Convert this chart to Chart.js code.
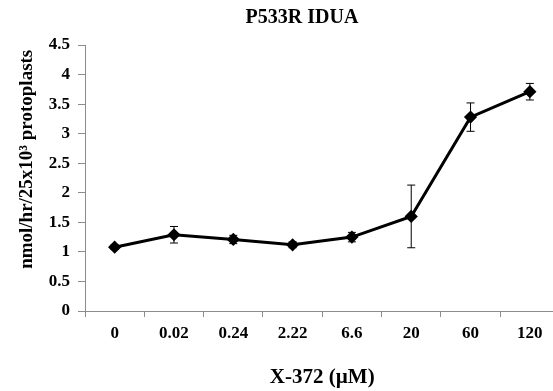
<!DOCTYPE html>
<html>
<head>
<meta charset="utf-8">
<script src="https://cdn.jsdelivr.net/npm/chart.js@4.4.1/dist/chart.umd.min.js"></script>
<style>
  html, body { margin: 0; padding: 0; background: #fff; overflow: hidden; }
  #wrap { width: 567px; height: 391px; position: relative; }
</style>
</head>
<body>
<div id="wrap"><canvas id="chart"></canvas></div>
<script>
const doses = ['0', '0.02', '0.24', '2.22', '6.6', '20', '60', '120'];
const activity = [1.08, 1.29, 1.21, 1.12, 1.25, 1.60, 3.28, 3.71];
const errors = [0.04, 0.14, 0.07, 0.05, 0.08, 0.53, 0.24, 0.14];

const FONT = "'Liberation Serif', 'Times New Roman', serif";
const AXIS_GREY = '#8c8c8c';

// error bars, drawn from the y scale
const errorBars = {
  id: 'errorBars',
  afterDatasetsDraw(chart) {
    const { ctx, scales: { y } } = chart;
    const meta = chart.getDatasetMeta(0);
    ctx.save();
    ctx.strokeStyle = '#000';
    ctx.lineWidth = 1;
    meta.data.forEach((pt, i) => {
      const top = y.getPixelForValue(activity[i] + errors[i]);
      const bot = y.getPixelForValue(activity[i] - errors[i]);
      ctx.beginPath();
      ctx.moveTo(pt.x, top); ctx.lineTo(pt.x, bot);
      ctx.moveTo(pt.x - 4, top); ctx.lineTo(pt.x + 4, top);
      ctx.moveTo(pt.x - 4, bot); ctx.lineTo(pt.x + 4, bot);
      ctx.stroke();
    });
    ctx.restore();
  }
};

// chart title, placed as in the original figure
const figTitle = {
  id: 'figTitle',
  afterDraw(chart) {
    const { ctx } = chart;
    ctx.save();
    ctx.font = `bold 20px ${FONT}`;
    ctx.fillStyle = '#000';
    ctx.textAlign = 'center';
    ctx.textBaseline = 'middle';
    ctx.fillText('P533R IDUA', 302, 18);
    ctx.restore();
  }
};

new Chart(document.getElementById('chart'), {
  type: 'line',
  data: {
    labels: doses,
    datasets: [{
      data: activity,
      borderColor: '#000',
      backgroundColor: '#000',
      borderWidth: 3,
      tension: 0,
      pointStyle: 'rectRot',
      pointRadius: 4.5,
      pointBackgroundColor: '#000',
      pointBorderColor: '#000',
    }],
  },
  options: {
    responsive: true, maintainAspectRatio: false,
    animation: false,
    layout: { padding: { top: 45, right: 0, bottom: 0, left: 0 } },
    plugins: { legend: { display: false }, tooltip: { enabled: false } },
    scales: {
      x: {
        offset: true,
        grid: { offset: true, drawOnChartArea: false, color: AXIS_GREY, tickLength: 6 },
        border: { color: AXIS_GREY, width: 1 },
        ticks: { color: '#000', padding: 6, font: { family: FONT, size: 17, weight: 'bold' } },
        title: {
          display: true, text: 'X-372 (\u00b5M)', color: '#000',
          padding: { top: 0, bottom: 1 },
          font: { family: FONT, size: 21, weight: 'bold' },
        },
        afterFit(scale) { scale.height = 80; },
      },
      y: {
        min: 0, max: 4.5,
        grid: { drawOnChartArea: false, color: AXIS_GREY, tickLength: 7 },
        border: { color: AXIS_GREY, width: 1 },
        ticks: {
          stepSize: 0.5, color: '#000', padding: 8,
          font: { family: FONT, size: 17, weight: 'bold' },
          callback: (v) => String(v),
        },
        title: {
          display: true, align: 'end', text: 'nmol/hr/25x10\u00b3 protoplasts ', color: '#000',
          padding: { top: 16, bottom: 0 },
          font: { family: FONT, size: 19, weight: 'bold' },
        },
        afterFit(scale) { scale.width = 85; },
      },
    },
  },
  plugins: [errorBars, figTitle],
});
</script>
</body>
</html>
